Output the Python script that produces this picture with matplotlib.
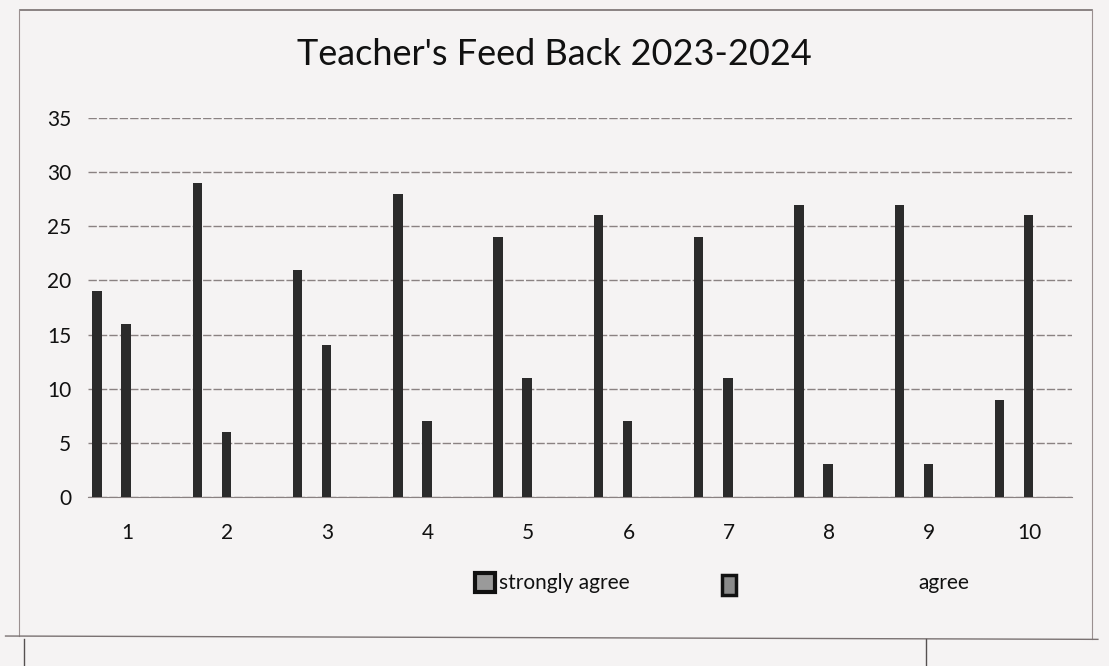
import matplotlib
matplotlib.use("Agg")
import matplotlib.pyplot as plt
from matplotlib.patches import Rectangle
from matplotlib.lines import Line2D
import numpy as np

# data
questions = [1, 2, 3, 4, 5, 6, 7, 8, 9, 10]
strongly_agree = [19, 29, 21, 28, 24, 26, 24, 27, 27, 9]
agree = [16, 6, 14, 7, 11, 7, 11, 3, 3, 26]
y_ticks = [0, 5, 10, 15, 20, 25, 30, 35]

plt.rcParams['font.family'] = ['Lato', 'DejaVu Sans']

paper = '#f5f3f3'
bar_color = '#2b2b2b'

fig = plt.figure(figsize=(11.09, 6.66), dpi=100, facecolor=paper)
ax = fig.add_axes([0.0794, 0.2538, 0.887, 0.569])
ax.set_facecolor(paper)

x = np.array(questions, dtype=float)
ax.bar(x - 0.30, strongly_agree, width=0.095, color=bar_color, zorder=3)
ax.bar(x - 0.01, agree, width=0.095, color=bar_color, zorder=3)

ax.set_xlim(0.61, 10.42)
ax.set_ylim(0, 35)
ax.set_yticks(y_ticks)
ax.set_xticks(questions)
ax.set_xticklabels([str(q) for q in questions])
ax.grid(axis='y', color='#8a8282', linewidth=1.0, linestyle=(0, (6, 1.5)), zorder=0)
ax.set_axisbelow(True)
for side in ['top', 'right', 'left']:
    ax.spines[side].set_visible(False)
ax.spines['bottom'].set_color('#8a8282')
ax.tick_params(axis='both', length=0, labelsize=15, colors='#111111')
ax.tick_params(axis='y', pad=12)
ax.tick_params(axis='x', pad=19)

fig.text(0.5, 0.918, "Teacher's Feed Back 2023-2024", ha='center', va='center',
         fontsize=26, color='#111111')

# legend drawn by hand, spaced as on the print
fig.patches.append(Rectangle((0.428, 0.111), 0.018, 0.028, transform=fig.transFigure,
                             facecolor='#9a9a9a', edgecolor='#111111', linewidth=3))
fig.text(0.45, 0.125, 'strongly agree', ha='left', va='center', fontsize=15, color='#111111')
fig.patches.append(Rectangle((0.651, 0.106), 0.013, 0.03, transform=fig.transFigure,
                             facecolor='#8a8a8a', edgecolor='#111111', linewidth=2.5))
fig.text(0.828, 0.125, 'agree', ha='left', va='center', fontsize=15, color='#111111')

# chart border and the table lines of the printed page
border = '#9a9090'
fig.lines.append(Line2D([0.018, 0.985], [0.985, 0.985], transform=fig.transFigure, color='#777070', linewidth=1.2))
fig.lines.append(Line2D([0.017, 0.017], [0.985, 0.045], transform=fig.transFigure, color=border, linewidth=0.8))
fig.lines.append(Line2D([0.985, 0.985], [0.985, 0.04], transform=fig.transFigure, color=border, linewidth=0.8))
fig.lines.append(Line2D([0.005, 0.99], [0.045, 0.04], transform=fig.transFigure, color='#7a7272', linewidth=1.0))
fig.lines.append(Line2D([0.022, 0.022], [0.04, 0.0], transform=fig.transFigure, color='#555050', linewidth=1.0))
fig.lines.append(Line2D([0.835, 0.835], [0.04, 0.0], transform=fig.transFigure, color='#555050', linewidth=1.0))

fig.savefig('out.png', dpi=100, facecolor=paper)
